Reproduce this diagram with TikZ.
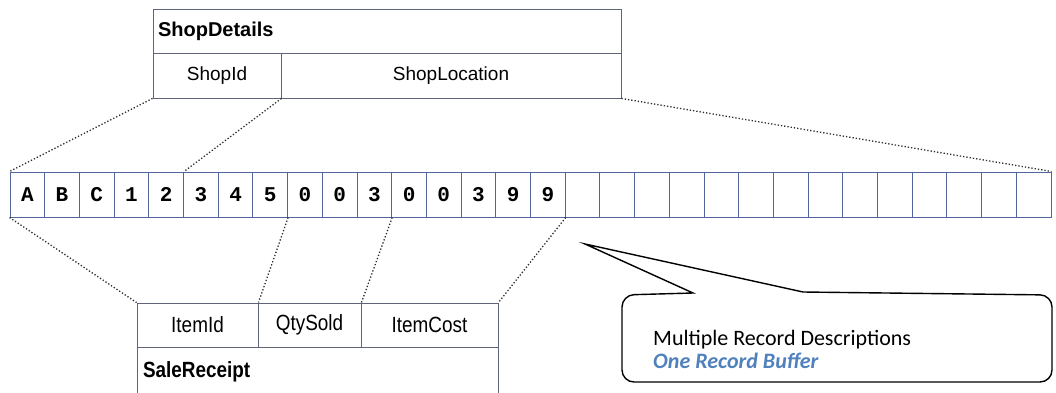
\documentclass[tikz,border=0pt]{standalone}
\usepackage{fontspec}
\setmainfont{Liberation Sans}
\newfontfamily\calfont{Carlito}
\newfontfamily\codefont{Liberation Mono}
\definecolor{gridblue}{RGB}{82,102,155}
\definecolor{boxline}{RGB}{95,100,120}
\definecolor{noteblue}{RGB}{79,129,189}
\newcommand{\narrow}[1]{\scalebox{0.86}[1]{#1}}
\begin{document}
\begin{tikzpicture}[x=1pt,y=1pt,
    rec/.style={draw=boxline, line width=0.9pt, inner sep=0pt, font=\fontsize{19}{22}\selectfont},
    title/.style={rec, align=left, inner xsep=5pt, font=\fontsize{20}{23}\selectfont\bfseries},
    cell/.style={draw=gridblue, line width=1pt, minimum width=34.7pt, minimum height=45pt, inner sep=0pt, font=\codefont\fontsize{21}{24}\selectfont\bfseries},
    link/.style={dotted, line width=1.3pt, gray!35!black}]
    \useasboundingbox (0,0) rectangle (1056,392);

    \node[title, minimum height=44pt, text width=458pt] (shophdr) at (387,361) {ShopDetails};
    \node[rec, minimum width=128pt, minimum height=45pt] (shopid) at (217,316.5) {ShopId};
    \node[rec, minimum width=340pt, minimum height=45pt] (shoploc) at (451,316.5) {ShopLocation};

    \foreach \ch [count=\i] in {A,B,C,1,2,3,4,5,0,0,3,0,0,3,9,9}
        \node[cell] (c\i) at ({10+(\i-0.5)*34.7},197.5) {\ch};
    \foreach \i in {17,...,30}
        \node[cell] (c\i) at ({10+(\i-0.5)*34.7},197.5) {};

    \node[rec, minimum width=121pt, minimum height=44pt, font=\fontsize{22}{25}\selectfont] (itemid) at (197.5,67) {\narrow{ItemId}};
    \node[rec, minimum width=103pt, minimum height=44pt, font=\fontsize{22}{25}\selectfont] (qtysold) at (309.5,67) {\narrow{QtySold}};
    \node[rec, minimum width=137pt, minimum height=44pt, font=\fontsize{22}{25}\selectfont] (itemcost) at (429.5,67) {\narrow{ItemCost}};
    \node[title, minimum height=50pt, text width=349pt, inner xsep=6pt, font=\fontsize{22}{25}\selectfont\bfseries] (salerec) at (317.5,20) {\narrow{SaleReceipt}};

    \draw[link] (shopid.south west) -- (c1.north west);
    \draw[link] (shopid.south east) -- (c5.north east);
    \draw[link] (shoploc.south east) -- (c30.north east);
    \draw[link] (c1.south west) -- (itemid.north west);
    \draw[link] (c8.south east) -- (itemid.north east);
    \draw[link] (c11.south east) -- (qtysold.north east);
    \draw[link] (c16.south east) -- (itemcost.north east);

    % callout
    \draw[line width=1.4pt, fill=white] (693,99) -- (585,148) -- (803,100)
        [rounded corners=12pt] -- (1052,97) -- (1052,10) -- (622,10) -- (622,97) [sharp corners] -- cycle;
    \node[anchor=base west, inner sep=0pt, font=\calfont\fontsize{22}{25}\selectfont] (note1) at (653,47) {Multiple Record Descriptions};
    \node[anchor=base west, inner sep=0pt, font=\calfont\fontsize{22}{25}\selectfont\bfseries\itshape, text=noteblue] (note2) at (653,24) {One Record Buffer};
\end{tikzpicture}
\end{document}
